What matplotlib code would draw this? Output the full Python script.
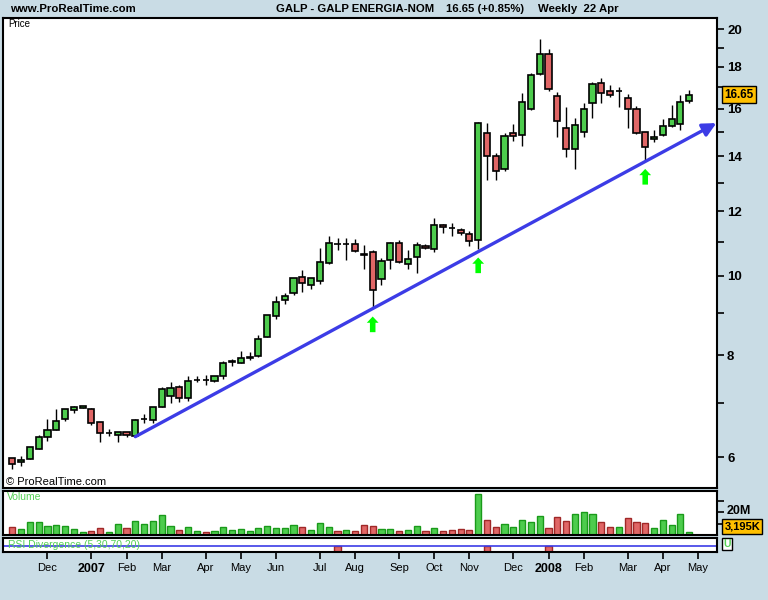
import matplotlib
matplotlib.use('Agg')
import matplotlib.pyplot as plt
import matplotlib.transforms as mtransforms
import numpy as np
import pandas as pd
from matplotlib.ticker import FixedLocator, NullFormatter

plt.rcParams['font.family'] = ['Liberation Sans', 'DejaVu Sans']

# GALP Energia, weekly candles (week starting Monday), volume in millions
first_week = '2006-10-30'
opens = [5.99, 5.92, 5.97, 6.14, 6.36, 6.48, 6.68, 6.85, 6.89, 6.87,
         6.62, 6.42, 6.39, 6.44, 6.37, 6.68, 6.66, 6.91, 7.13, 7.31,
         7.09, 7.45, 7.46, 7.43, 7.54, 7.85, 7.82, 7.94, 7.97, 8.41,
         8.93, 9.34, 9.52, 9.96, 9.74, 9.85, 10.37, 10.94, 10.93, 10.93,
         10.62, 10.69, 9.92, 10.47, 10.96, 10.33, 10.54, 10.87, 10.77, 11.53,
         11.45, 11.37, 11.24, 11.05, 14.94, 14.00, 13.50, 14.94, 14.85, 15.98,
         17.63, 18.65, 16.57, 15.15, 14.28, 14.98, 16.25, 17.19, 16.81, 16.82,
         16.48, 15.98, 14.98, 14.69, 14.85, 15.23, 15.32, 16.34]
highs = [5.99, 6.03, 6.18, 6.39, 6.68, 6.88, 6.88, 6.94, 6.94, 6.89,
         6.63, 6.50, 6.45, 6.45, 6.69, 6.78, 6.91, 7.31, 7.41, 7.35,
         7.55, 7.54, 7.56, 7.55, 7.86, 7.92, 8.10, 8.07, 8.46, 8.95,
         9.44, 9.52, 9.95, 10.16, 9.95, 10.82, 11.19, 11.12, 11.12, 11.08,
         10.90, 10.76, 10.51, 10.99, 11.05, 10.75, 10.99, 10.93, 11.77, 11.57,
         11.60, 11.44, 11.34, 15.41, 15.36, 14.12, 14.94, 15.32, 16.71, 17.68,
         19.46, 18.92, 16.76, 16.07, 15.58, 16.25, 17.24, 17.43, 17.09, 17.00,
         16.67, 16.13, 14.98, 15.06, 15.54, 16.16, 16.62, 16.86]
lows = [5.81, 5.86, 5.97, 6.14, 6.29, 6.48, 6.64, 6.79, 6.89, 6.58,
        6.27, 6.37, 6.27, 6.35, 6.36, 6.61, 6.61, 6.91, 6.99, 7.01,
        7.04, 7.41, 7.36, 7.42, 7.49, 7.75, 7.82, 7.90, 7.96, 8.41,
        8.85, 9.23, 9.47, 9.55, 9.63, 9.77, 10.33, 10.76, 10.46, 10.68,
        10.20, 9.13, 9.74, 10.18, 10.36, 10.18, 10.09, 10.78, 10.69, 11.27,
        11.19, 11.21, 10.88, 10.78, 13.11, 13.11, 13.42, 14.60, 14.42, 15.95,
        17.58, 16.81, 14.77, 13.96, 13.50, 14.79, 15.58, 16.25, 16.53, 16.10,
        15.15, 14.91, 13.83, 14.56, 14.83, 15.21, 15.08, 16.25]
closes = [5.89, 5.95, 6.18, 6.35, 6.48, 6.64, 6.87, 6.91, 6.93, 6.61,
          6.42, 6.43, 6.44, 6.39, 6.66, 6.69, 6.91, 7.27, 7.29, 7.09,
          7.43, 7.46, 7.45, 7.54, 7.82, 7.86, 7.93, 7.95, 8.37, 8.95,
          9.28, 9.44, 9.93, 9.79, 9.93, 10.39, 10.96, 10.93, 10.94, 10.71,
          10.61, 9.62, 10.44, 10.96, 10.39, 10.48, 10.90, 10.81, 11.53, 11.47,
          11.44, 11.27, 11.02, 15.36, 14.00, 13.42, 14.81, 14.82, 16.30, 17.58,
          18.65, 16.90, 15.45, 14.28, 15.28, 15.98, 17.14, 16.71, 16.62, 16.84,
          15.98, 14.94, 14.36, 14.77, 15.23, 15.54, 16.30, 16.65]
volumes = [7.2, 5.5, 11.3, 11.3, 7.8, 8.7, 7.8, 5.2, 2.6, 3.5,
           6.4, 2.6, 9.6, 6.1, 12.2, 9.6, 12.2, 17.4, 7.8, 4.3,
           7.0, 3.5, 2.6, 3.5, 7.0, 4.3, 5.2, 3.5, 6.1, 7.8,
           6.1, 6.1, 8.7, 7.0, 4.3, 10.4, 7.0, 3.5, 4.3, 3.5,
           8.7, 7.8, 5.2, 5.2, 3.5, 4.3, 7.8, 3.5, 6.1, 3.5,
           4.3, 5.2, 4.3, 35.7, 13.0, 7.0, 9.6, 7.0, 13.0, 11.3,
           16.5, 6.1, 15.7, 12.2, 18.3, 20.0, 18.3, 11.3, 7.0, 7.0,
           14.8, 11.3, 10.4, 6.1, 13.0, 8.7, 18.3, 3.195]

# support line (candle index, price) and signals
trend_idx = [14, 80.1]
trend_price = [6.36, 15.37]
signal_idx = [41, 53, 72]
rsi_div_idx = [37, 54, 61]

price_ticks = [6, 8, 10, 12, 14, 16, 18, 20]
price_minor = [7, 9, 11, 13, 15, 17, 19]
vol_ticks = [10, 20, 30]
vol_labels = ['', '20M', '']

bg = '#c9dce5'
green = '#4dcc4d'
red = '#e06666'
txt_green = '#55d055'
blue = '#3c3ce6'

W, H = 768, 600


def px_axes(fig, x0, y0, x1, y1):
    return fig.add_axes([x0 / W, 1 - y1 / H, (x1 - x0) / W, (y1 - y0) / H])


fig = plt.figure(figsize=(W / 100, H / 100), dpi=100, facecolor=bg)
ax = px_axes(fig, 3.3, 18.3, 717.3, 488.3)
axv = px_axes(fig, 3.3, 491.3, 717.3, 535.3)
axr = px_axes(fig, 3.3, 538.3, 717.3, 552.0)

n = len(closes)
idx = np.arange(n)
o = np.array(opens)
c = np.array(closes)
up = c >= o

# candles
ax.vlines(idx, lows, highs, color='black', lw=1, zorder=2)
ax.bar(idx, np.abs(c - o), bottom=np.minimum(o, c), width=0.7,
       color=np.where(up, green, red), edgecolor='black', linewidth=1.2, zorder=3)
ax.set_yscale('log')
ax.set_ylim(5.5, 20.64)
ax.set_xlim(-1.02, 80.2)

# trend line with arrow head
ax.annotate('', xy=(trend_idx[1], trend_price[1]), xytext=(trend_idx[0], trend_price[0]),
            arrowprops=dict(arrowstyle='-|>,head_length=0.4,head_width=0.2', color=blue,
                            lw=2.4, shrinkA=0, shrinkB=0, mutation_scale=20), zorder=4)

# signal arrows below the lows
for i in signal_idx:
    ax.annotate('', xy=(i, lows[i]), xytext=(0, -24), textcoords='offset pixels',
                arrowprops=dict(arrowstyle='simple,head_length=0.45,head_width=0.85,tail_width=0.4',
                                fc='#00ff00', ec='#00ff00', lw=0, shrinkA=0, shrinkB=6,
                                mutation_scale=10))

ax.yaxis.tick_right()
ax.set_yticks(price_ticks)
ax.set_yticklabels([str(t) for t in price_ticks])
ax.yaxis.set_minor_locator(FixedLocator(price_minor))
ax.yaxis.set_minor_formatter(NullFormatter())
ax.tick_params(axis='y', which='both', direction='out', length=5, width=1.2,
               labelsize=9.5, pad=2)
for lbl in ax.get_yticklabels():
    lbl.set_fontweight('bold')
ax.set_xticks([])

ax.annotate(f'{closes[-1]:.2f}', xy=(1, closes[-1]), xycoords=('axes fraction', 'data'),
            xytext=(7, 0), textcoords='offset pixels', ha='left', va='center',
            fontsize=8.5, fontweight='bold', annotation_clip=False,
            bbox=dict(boxstyle='square,pad=0.22', fc='#ffc000', ec='black', lw=1))

# volume
prev = np.concatenate([[o[0]], c[:-1]])
vup = c >= prev
axv.bar(idx, volumes, width=0.7, color=np.where(vup, green, red),
        edgecolor=np.where(vup, '#1a9a1a', '#a02828'), linewidth=1)
axv.set_xlim(-1.02, 80.2)
axv.set_ylim(0, 38.3)
axv.yaxis.tick_right()
axv.set_yticks(vol_ticks)
axv.set_yticklabels(vol_labels)
axv.tick_params(axis='y', direction='out', length=5, width=1.2, labelsize=9, pad=2)
shift_up = mtransforms.ScaledTranslation(0, 3 / 100, fig.dpi_scale_trans)
for lbl in axv.get_yticklabels():
    lbl.set_fontweight('bold')
    lbl.set_transform(lbl.get_transform() + shift_up)
axv.set_xticks([])
axv.annotate(f'{volumes[-1] * 1000:,.0f}K', xy=(1, 0.2), xycoords='axes fraction',
             xytext=(7, 0), textcoords='offset pixels', ha='left', va='center',
             fontsize=8, fontweight='bold', annotation_clip=False, zorder=5,
             bbox=dict(boxstyle='square,pad=0.2', fc='#ffc000', ec='black', lw=1))

# RSI divergence strip
axr.axhline(0.45, color=blue, lw=1.2)
axr.bar(rsi_div_idx, [0.42] * len(rsi_div_idx), width=0.7, color=red,
        edgecolor='#a02828', linewidth=1)
axr.set_xlim(-1.02, 80.2)
axr.set_ylim(0, 1)
axr.set_yticks([])
axr.text(0.006, 0.5, 'RSI Divergence (5,30,70,20)', transform=axr.transAxes,
         color=txt_green, fontsize=7.5, va='center', ha='left')
axr.annotate('U', xy=(1, 0.6), xycoords='axes fraction', xytext=(6, 0),
             textcoords='offset pixels', ha='left', va='center', color=txt_green,
             fontsize=7.5, fontweight='bold', annotation_clip=False,
             bbox=dict(boxstyle='square,pad=0.1', fc='white', ec='black', lw=1))

# month ticks: first week whose Friday falls in a new month
weeks = pd.date_range(first_week, periods=82, freq='W-MON')
fridays = weeks + pd.Timedelta(days=4)
tick_pos, tick_lab = [], []
for i in range(1, 81):
    if fridays[i].month != fridays[i - 1].month:
        tick_pos.append(i)
        tick_lab.append(str(fridays[i].year) if fridays[i].month == 1
                        else fridays[i].strftime('%b'))
axr.set_xticks(tick_pos)
axr.set_xticklabels(tick_lab)
axr.tick_params(axis='x', direction='out', length=5, width=1.2, labelsize=8, pad=3)
for lbl in axr.get_xticklabels():
    if lbl.get_text().isdigit():
        lbl.set_fontweight('bold')
        lbl.set_fontsize(9)

for a in (ax, axv, axr):
    a.set_facecolor('white')
    for s in a.spines.values():
        s.set_linewidth(1.5)

# panel captions and header
fig.text(8 / W, 1 - 24 / H, 'Price', fontsize=7, va='center', ha='left')
fig.text(6 / W, 1 - 482 / H, '\u00a9 ProRealTime.com', fontsize=8, va='center', ha='left')
fig.text(7 / W, 1 - 497 / H, 'Volume', fontsize=7.5, color=txt_green, va='center', ha='left')
fig.text(10 / W, 1 - 9 / H, 'www.ProRealTime.com', fontsize=8.2, fontweight='bold',
         va='center', ha='left')
fig.text(276 / W, 1 - 9 / H, 'GALP - GALP ENERGIA-NOM', fontsize=8.2, fontweight='bold',
         va='center', ha='left')
fig.text(446 / W, 1 - 9 / H, f'{closes[-1]:.2f} (+0.85%)', fontsize=8.2, fontweight='bold',
         va='center', ha='left')
fig.text(538 / W, 1 - 9 / H, 'Weekly  22 Apr', fontsize=8.2, fontweight='bold',
         va='center', ha='left')

fig.savefig('out.png', dpi=100, facecolor=bg)
